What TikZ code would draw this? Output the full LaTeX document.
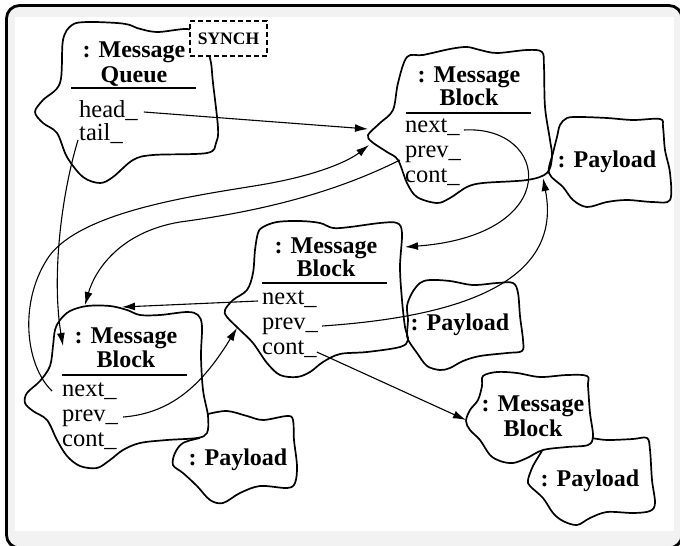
\documentclass[tikz,border=0pt]{standalone}
\usepackage{fontspec}
\setmainfont{Liberation Serif}
\usetikzlibrary{arrows.meta,calc}
\definecolor{framegray}{HTML}{F2F2F2}
\begin{document}
\begin{tikzpicture}[x=1pt,y=-1pt,
  cloud/.style={line width=1.7pt, line join=round},
  title/.style={inner sep=0pt, anchor=base, font=\fontsize{24}{24}\selectfont\bfseries},
  attr/.style={inner sep=0pt, anchor=base west, font=\fontsize{24.5}{24}\selectfont},
  rulebar/.style={line width=1.4pt},
  conn/.style={line width=1.1pt, -{Latex[length=13pt,width=8pt]}}
]
\useasboundingbox (0,0) rectangle (680,546);
\clip (0,0) rectangle (680,546);
\fill[white] (0,0) rectangle (680,546);
\draw[line width=2.8pt, fill=framegray, rounded corners=13pt] (6.5,5.5) rectangle (682,548);
\fill[white] (15,17) rectangle (674,531);

% ---- clouds
\draw[cloud] plot[smooth cycle, tension=0.55] coordinates {(72,25) (87,22) (117,23) (130,25) (137,28) (157,32) (187,29) (200,35) (210,58) (213,83) (218,128) (216,143) (207,153) (153,155) (133,160) (113,177) (100,183) (83,177) (67,157) (57,133) (43,123) (35,112) (43,100) (60,83) (63,40)};
\draw[cloud] plot[smooth cycle, tension=0.55] coordinates {(407,57) (423,55) (450,49) (467,47) (480,50) (497,53) (527,50) (542,52) (544,67) (545,107) (550,140) (552,157) (547,173) (527,180) (483,183) (467,187) (450,198) (437,203) (417,197) (407,183) (398,160) (387,152) (372,142) (368,135) (380,123) (393,110) (398,83)};
\draw[cloud] plot[smooth cycle, tension=0.55] coordinates {(560,125) (567,118) (580,117) (607,118) (633,120) (660,119) (663,127) (665,150) (670,173) (670,200) (653,202) (627,200) (607,202) (587,207) (573,200) (563,187) (549,173) (553,153) (557,137)};
\draw[cloud] plot[smooth cycle, tension=0.55] coordinates {(263,227) (277,222) (300,221) (320,223) (333,228) (350,227) (380,223) (397,223) (402,233) (400,267) (402,300) (405,327) (408,340) (400,347) (367,352) (340,354) (323,362) (310,372) (297,377) (280,375) (267,363) (253,343) (240,330) (227,317) (225,310) (233,300) (247,290) (253,273) (255,250) (258,233)};
\draw[cloud] plot[smooth cycle, tension=0.55] coordinates {(412,293) (420,283) (430,280) (450,281) (473,285) (497,283) (513,283) (518,293) (520,316) (523,340) (522,351) (507,353) (480,356) (463,361) (450,368) (440,370) (427,366) (417,353) (410,343) (407,336) (408,320) (407,306)};
\draw[cloud] plot[smooth cycle, tension=0.55] coordinates {(60,320) (70,311) (87,306) (110,306) (127,310) (140,315) (160,315) (187,312) (198,315) (202,326) (201,356) (203,390) (208,416) (207,433) (197,438) (167,440) (140,443) (123,450) (110,460) (97,468) (80,466) (67,456) (57,440) (47,420) (33,411) (25,403) (27,393) (40,381) (50,366) (53,346) (55,330)};
\draw[cloud] plot[smooth, tension=0.55] coordinates {(208,414) (227,411) (247,416) (263,420) (287,416) (293,420) (294,440) (297,466) (295,483) (287,488) (260,486) (240,493) (223,503) (210,500) (197,486) (183,473) (173,465) (175,453) (183,443) (200,438)};
\draw[cloud] plot[smooth cycle, tension=0.55] coordinates {(483,376) (497,372) (517,373) (540,377) (567,375) (587,376) (588,386) (590,413) (593,436) (588,445) (567,447) (543,450) (527,458) (513,463) (500,461) (490,455) (480,440) (470,430) (466,421) (470,410) (478,400) (482,386)};
\draw[cloud] plot[smooth, tension=0.55] coordinates {(592,438) (607,440) (633,439) (647,438) (650,450) (652,480) (655,503) (650,511) (633,513) (607,512) (590,518) (577,525) (563,521) (553,513) (543,498) (530,486) (528,480) (533,466) (542,451)};

% ---- SYNCH box
\node[draw, dash pattern=on 5pt off 3pt, fill=white, line width=1.4pt, minimum width=77pt, minimum height=35pt, inner sep=0pt, font=\fontsize{17.5}{18}\selectfont\bfseries] (synch) at (228.5,38.5) {SYNCH};

% ---- Message Queue
\node[title] (q1) at (134,57) {: Message};
\node[title] (q2) at (134,82) {Queue};
\draw[rulebar] (71,88) -- (196,88);
\node[attr] (qhead) at (79,117) {head\_};
\node[attr] (qtail) at (79,140) {tail\_};

% ---- Message Block 2 (top right)
\node[title] (b2t) at (469,82) {: Message};
\node[title] (b2b) at (469,105) {Block};
\draw[rulebar] (406,113) -- (531,113);
\node[attr] (b2next) at (405,132) {next\_};
\node[attr] (b2prev) at (405,157) {prev\_};
\node[attr] (b2cont) at (405,182) {cont\_};
\node[title] (p2) at (607,167) {: Payload};

% ---- Message Block 3 (middle)
\node[title] (b3t) at (326,253) {: Message};
\node[title] (b3b) at (326,276) {Block};
\draw[rulebar] (262,283) -- (387,283);
\node[attr] (b3next) at (262,304) {next\_};
\node[attr] (b3prev) at (262,329) {prev\_};
\node[attr] (b3cont) at (262,354) {cont\_};
\node[title] (p3) at (460,330) {: Payload};

% ---- Message Block 4 (lower left)
\node[title] (b4t) at (126,343) {: Message};
\node[title] (b4b) at (126,367) {Block};
\draw[rulebar] (62,375) -- (187,375);
\node[attr] (b4next) at (62,396) {next\_};
\node[attr] (b4prev) at (62,421) {prev\_};
\node[attr] (b4cont) at (62,446) {cont\_};
\node[title] (p4) at (238,465) {: Payload};

% ---- Message Block 5 (lower right)
\node[title] (b5t) at (533,411) {: Message};
\node[title] (b5b) at (533,436) {Block};
\node[title] (p5) at (590,486) {: Payload};

% ---- arrow targets on cloud outlines
\coordinate (c2a) at (368,129);
\coordinate (c2b) at (369,145);
\coordinate (c2c) at (543,178);
\coordinate (c3a) at (405,247);
\coordinate (c3b) at (237,328);
\coordinate (c4a) at (63,346);
\coordinate (c4b) at (85,305);
\coordinate (c4c) at (122,307);
\coordinate (c5a) at (466,420);

% ---- connectors
\draw[conn] ($(qhead.base east)+(6,-5)$) -- (c2a);
\draw[conn] ($(qtail.base west)+(-1,0)$) .. controls (60,200) and (52,280) .. (c4a);
\draw[conn] ($(b4next.base west)+(-10,-5)$) .. controls (25,365) and (18,300) .. (50,255) .. controls (85,210) and (200,195) .. (260,185) .. controls (320,175) and (350,160) .. (c2b);
\draw[conn] ($(b2prev.base west)+(-5,3)$) .. controls (340,190) and (270,210) .. (180,222) .. controls (120,232) and (95,270) .. (c4b);
\draw[conn] ($(b2next.base east)+(4,-2)$) .. controls (550,125) and (565,235) .. (c3a);
\draw[conn] ($(b3prev.base east)+(4,-3)$) .. controls (440,318) and (565,290) .. (c2c);
\draw[conn] ($(b3cont.base east)+(0,-2)$) -- (c5a);
\draw[conn] ($(b3next.base west)+(-4,-3)$) -- (c4c);
\draw[conn] ($(b4prev.base east)+(5,-4)$) .. controls (175,413) and (205,380) .. (c3b);
\end{tikzpicture}
\end{document}
